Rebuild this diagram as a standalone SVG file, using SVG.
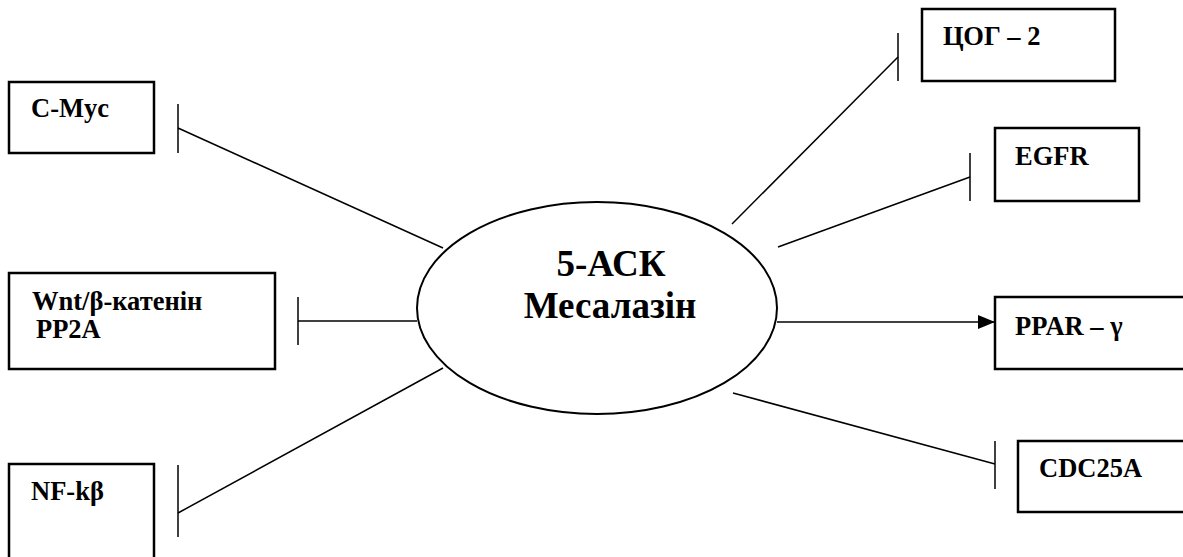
<svg xmlns="http://www.w3.org/2000/svg" width="1183" height="557" viewBox="0 0 1183 557">
<style>
.box{fill:#fff;stroke:#000;stroke-width:2.5}
text{font-family:'Liberation Serif',serif;font-weight:bold;fill:#000}
.lbl{font-size:26.5px}
.big{font-size:37px}
.ln{stroke:#000;stroke-width:1.5;fill:none}
</style>
<defs>
<marker id="arr" viewBox="0 0 10 10" refX="10" refY="5" markerWidth="17" markerHeight="14" markerUnits="userSpaceOnUse" orient="auto" preserveAspectRatio="none">
<path d="M0,0 L10,5 L0,10 z" fill="#000"/>
</marker>
</defs>
<rect width="1183" height="557" fill="#fff"/>
<g id="connectors">
<line class="ln" x1="443" y1="248" x2="178" y2="128"/>
<line class="ln" x1="178" y1="104" x2="178" y2="153"/>
<line class="ln" x1="417" y1="321" x2="298" y2="321"/>
<line class="ln" x1="298" y1="297" x2="298" y2="345"/>
<line class="ln" x1="443" y1="368" x2="178" y2="513"/>
<line class="ln" x1="178" y1="465" x2="178" y2="537"/>
<line class="ln" x1="732" y1="224" x2="898" y2="57"/>
<line class="ln" x1="898" y1="33" x2="898" y2="81"/>
<line class="ln" x1="778" y1="247" x2="970" y2="177"/>
<line class="ln" x1="970" y1="153" x2="970" y2="201"/>
<line class="ln" x1="777" y1="322" x2="995" y2="322" marker-end="url(#arr)"/>
<line class="ln" x1="733" y1="393" x2="995" y2="464"/>
<line class="ln" x1="995" y1="441" x2="995" y2="489"/>
</g>
<g id="center">
<ellipse cx="597" cy="308" rx="180" ry="106" fill="#fff" stroke="#000" stroke-width="2"/>
<text class="big" x="611" y="276" text-anchor="middle">5-АСК</text>
<text class="big" x="610" y="318" text-anchor="middle">Месалазін</text>
</g>
<g id="cmyc">
<rect class="box" x="9" y="82" width="145" height="71"/>
<text class="lbl" x="31" y="117">C-Myc</text>
</g>
<g id="wnt">
<rect class="box" x="9" y="273" width="266" height="96"/>
<text class="lbl" x="32" y="310">Wnt/β-катенін</text>
<text class="lbl" x="36" y="338">PP2A</text>
</g>
<g id="nfkb">
<rect class="box" x="9" y="464" width="145" height="110"/>
<text class="lbl" x="31" y="500">NF-kβ</text>
</g>
<g id="cog2">
<rect class="box" x="922" y="9" width="193" height="72"/>
<text class="lbl" x="943" y="45">ЦОГ – 2</text>
</g>
<g id="egfr">
<rect class="box" x="995" y="128" width="144" height="73"/>
<text class="lbl" x="1015" y="165">EGFR</text>
</g>
<g id="ppar">
<rect class="box" x="995" y="297" width="200" height="72"/>
<text class="lbl" x="1015" y="335">PPAR – γ</text>
</g>
<g id="cdc25a">
<rect class="box" x="1018" y="441" width="180" height="71"/>
<text class="lbl" x="1039" y="477">CDC25A</text>
</g>
</svg>
